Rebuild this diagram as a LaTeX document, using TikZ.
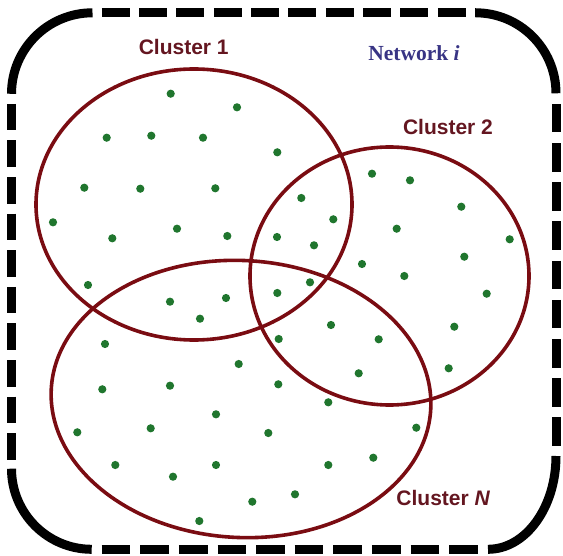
\documentclass[tikz,border=0pt]{standalone}
\usepackage{fontspec}
\setmainfont{Liberation Serif}
\setsansfont{Liberation Sans}
\definecolor{ringred}{RGB}{122,12,18}
\definecolor{labelred}{RGB}{100,22,32}
\definecolor{dotgreen}{RGB}{32,118,46}
\definecolor{netblue}{RGB}{56,52,132}
\begin{document}
\begin{tikzpicture}[x=1pt,y=-1pt,
  ring/.style={draw=ringred,line width=3.6pt},
  seed/.style={fill=dotgreen},
  clabel/.style={text=labelred,inner sep=0pt,
    font=\sffamily\bfseries\fontsize{21}{21}\selectfont},
  netlabel/.style={text=netblue,inner sep=0pt,
    font=\rmfamily\bfseries\fontsize{21.5}{21.5}\selectfont},
  frame/.style={line width=9pt,black,line cap=butt},
  side/.style 2 args={frame,dash pattern=on #1pt off #2pt,dash phase=#1pt}]
\useasboundingbox (0,0) rectangle (563,556);

% outer frame: solid rounded corners, dashed straight sides
\draw[frame] (11.5,93.8) arc[start angle=180,end angle=270,x radius=81,y radius=81];
\draw[frame] (475.5,12.8) arc[start angle=270,end angle=360,x radius=80.5,y radius=80.5];
\draw[frame] (556,456) arc[start angle=0,end angle=90,x radius=68,y radius=93.3];
\draw[frame] (91.7,549.3) arc[start angle=90,end angle=180,x radius=80.2,y radius=80.6];
\draw[side={28}{9.33}] (92.5,12.8) -- (475.5,12.8);
\draw[side={28.6}{10.6}] (556,93.3) -- (556,456);
\draw[side={28.6}{10}] (91.7,549.3) -- (489,549.3);
\draw[side={26.5}{10.1}] (11.5,93.8) -- (11.5,468.7);

% the three clusters
\draw[ring] (194,204.5) ellipse[x radius=158,y radius=135.5];
\draw[ring] (389.5,276) ellipse[x radius=139.5,y radius=129];
\draw[ring,rotate around={-3:(241,399)}] (241,399) ellipse[x radius=190,y radius=138.5];

% network members
\foreach \p in {(170.7,93.7),(237,107.3),(106.7,137.7),(151.3,135.7),(203,137.7),
  (277.3,152.3),(84.3,187.7),(140.3,188.7),(215.3,188.3),(53,222.3),(112.3,238.3),
  (177,228.7),(227.3,236),(88,285),(170,301.7),(226,298),(200,318.7),
  (301.3,198),(333.3,219.3),(277,237),(314,245.3),(372,173.7),(410,180.3),
  (461.3,206.7),(509.7,239.3),(396.7,228.7),(464.3,256.7),(362,264),(404.3,276),
  (486.7,293.7),(310,282.3),(277.3,293),(331,325),(378.7,339.3),(454.3,326.7),
  (278.7,339),(358.7,373.3),(448.7,368.3),
  (105,344),(238.7,364),(102.3,389.3),(170,385.7),(278.3,384.3),(328.3,402.3),
  (216,414.3),(77.3,432.3),(150.7,428.3),(268.3,433),(416.3,427.7),(115.3,465),
  (216,465),(328.3,465),(373.3,457.7),(173,476.7),(252.3,501.7),(295,494.3),
  (199.3,521)}
  \fill[seed] \p circle (4.1);

% labels
\node[clabel] (c1) at (183.7,47.3) {Cluster 1};
\node[clabel] (c2) at (448,126.7) {Cluster 2};
\node[clabel] (cn) at (443.3,498.3) {Cluster \textit{N}};
\node[netlabel] (net) at (414,53) {Network \textit{i}};
\end{tikzpicture}
\end{document}
